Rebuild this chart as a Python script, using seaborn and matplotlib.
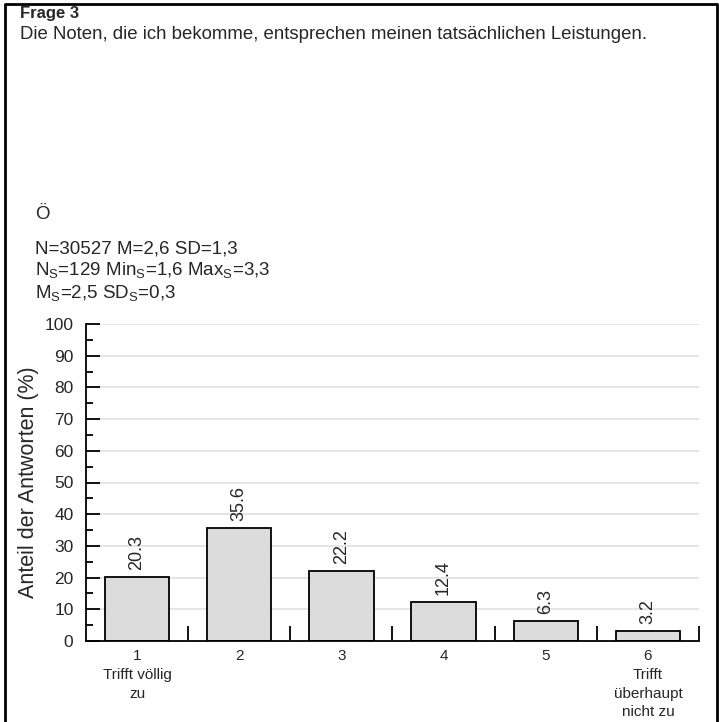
import matplotlib
matplotlib.use("Agg")
import matplotlib.pyplot as plt
from matplotlib.lines import Line2D
from matplotlib.ticker import MultipleLocator, FixedLocator
import seaborn as sns
import pandas as pd

categories = ["1\nTrifft völlig\nzu", "2", "3", "4", "5", "6\nTrifft\nüberhaupt\nnicht zu"]
values = [20.3, 35.6, 22.2, 12.4, 6.3, 3.2]
value_labels = ["20.3", "35.6", "22.2", "12.4", "6.3", "3.2"]
title = "Frage 3"
subtitle = "Die Noten, die ich bekomme, entsprechen meinen tatsächlichen Leistungen."
group = "Ö"
stats_lines = [
    "N=30527 M=2,6 SD=1,3",
    r"$\mathregular{N_S}$=129 $\mathregular{Min_S}$=1,6 $\mathregular{Max_S}$=3,3",
    r"$\mathregular{M_S}$=2,5 $\mathregular{SD_S}$=0,3",
]
ylabel = "Anteil der Antworten (%)"

sns.set_theme(style="white")
plt.rcParams["font.family"] = ["Liberation Sans", "DejaVu Sans"]

W, H = 719, 722
fig = plt.figure(figsize=(W / 100, H / 100), dpi=100)

def fx(px):
    return px / W

def fy(py):
    return 1 - py / H

ax = fig.add_axes([fx(86), fy(641), fx(699) - fx(86), fy(324) - fy(641)])

df = pd.DataFrame({"cat": categories, "val": values})
sns.barplot(data=df, x="cat", y="val", color="#dcdcdc", saturation=1,
            edgecolor="black", linewidth=1.3, width=0.63, ax=ax, zorder=3)

ax.set_xlim(-0.5, len(categories) - 0.5)
ax.set_ylim(0, 100)
ax.yaxis.set_major_locator(MultipleLocator(10))
ax.yaxis.set_minor_locator(MultipleLocator(5))
ax.grid(axis="y", which="major", color="#e0e0e0", linewidth=1.2, zorder=0)
ax.grid(axis="x", visible=False)
ax.set_axisbelow(True)

for s in ["top", "right"]:
    ax.spines[s].set_visible(False)
for s in ["left", "bottom"]:
    ax.spines[s].set_color("black")
    ax.spines[s].set_linewidth(1.3)
    ax.spines[s].set_zorder(4)

ax.tick_params(axis="y", which="major", direction="in", length=10, width=1.3,
               color="black", labelsize=12.5, pad=9, left=True)
ax.tick_params(axis="y", which="minor", direction="in", length=5, width=1.3,
               color="black", left=True)
ax.xaxis.set_minor_locator(FixedLocator([i + 0.5 for i in range(len(categories))]))
ax.tick_params(axis="x", which="minor", direction="in", length=11, width=1.3,
               color="black", bottom=True)
ax.tick_params(axis="x", which="major", length=0, labelsize=11, pad=6)
for lab in ax.get_xticklabels():
    lab.set_linespacing(1.42)

ax.set_xlabel("")
ax.set_ylabel(ylabel, fontsize=15.5, labelpad=4)

for cont in ax.containers:
    ax.bar_label(cont, labels=value_labels, rotation=90, padding=5, fontsize=13)

# Text header
fig.text(fx(20), fy(18), title, fontsize=12, fontweight="bold", va="baseline", ha="left")
fig.text(fx(20), fy(39), subtitle, fontsize=13.4, va="baseline", ha="left")
fig.text(fx(35), fy(219), group, fontsize=13.5, va="baseline", ha="left")
for i, line in enumerate(stats_lines):
    fig.text(fx(35), fy(253 + 22.5 * i), line, fontsize=13.5, va="baseline", ha="left")

# Outer frame (open at bottom)
fig.add_artist(Line2D([fx(5), fx(5), fx(717), fx(717)], [0, fy(4), fy(4), 0],
                      transform=fig.transFigure, color="black", linewidth=2))

fig.savefig("out.png", dpi=100)
